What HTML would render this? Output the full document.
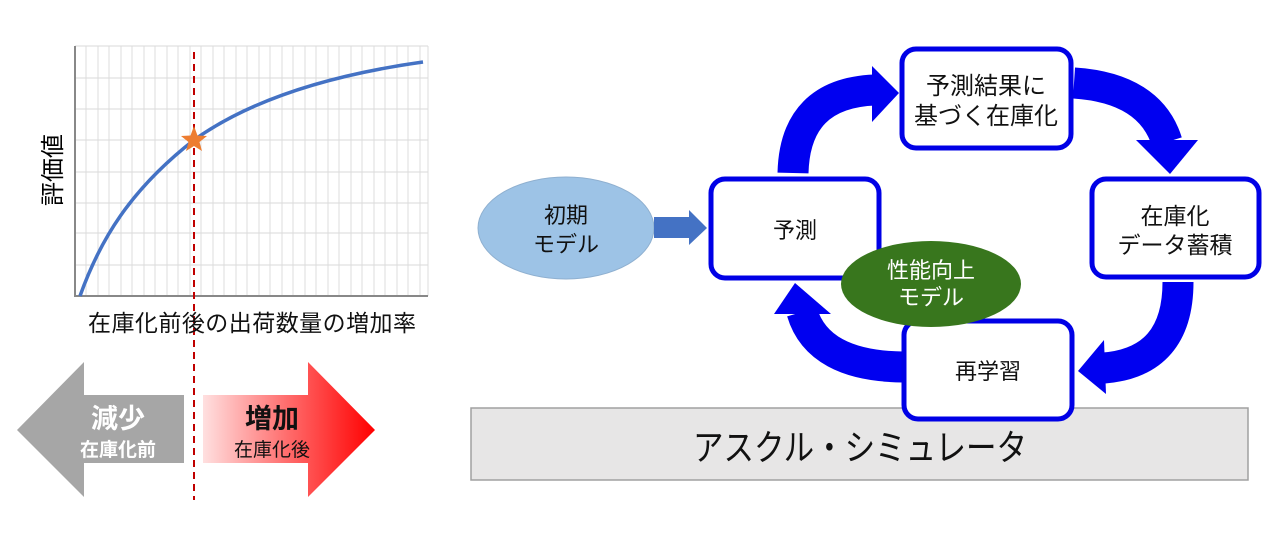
<!DOCTYPE html>
<html><head><meta charset="utf-8"><style>
html,body{margin:0;padding:0;background:#fff;}
body{width:1280px;height:530px;overflow:hidden;}
text{font-family:"Liberation Sans","Noto Sans CJK JP",sans-serif;}
</style></head><body>
<svg width="1280" height="530" viewBox="0 0 1280 530" xmlns="http://www.w3.org/2000/svg">
<defs>
<linearGradient id="rg" x1="0" x2="1" y1="0" y2="0">
<stop offset="0" stop-color="#ffe0e0"/><stop offset="0.5" stop-color="#ff6a6a"/><stop offset="1" stop-color="#ff0000"/>
</linearGradient>
</defs>
<g stroke="#d9d9d9" stroke-width="1">
<line x1="75" y1="46" x2="428" y2="46"/><line x1="75" y1="78" x2="428" y2="78"/><line x1="75" y1="109" x2="428" y2="109"/>
<line x1="75" y1="140" x2="428" y2="140"/><line x1="75" y1="172" x2="428" y2="172"/><line x1="75" y1="203" x2="428" y2="203"/>
<line x1="75" y1="233" x2="428" y2="233"/><line x1="75" y1="265" x2="428" y2="265"/>
</g>
<g stroke="#dcdcdc" stroke-width="1">
<line x1="86" y1="46" x2="86" y2="296"/><line x1="98" y1="46" x2="98" y2="296"/><line x1="109" y1="46" x2="109" y2="296"/>
<line x1="121" y1="46" x2="121" y2="296"/><line x1="132" y1="46" x2="132" y2="296"/><line x1="144" y1="46" x2="144" y2="296"/>
<line x1="155" y1="46" x2="155" y2="296"/><line x1="167" y1="46" x2="167" y2="296"/><line x1="178" y1="46" x2="178" y2="296"/>
<line x1="190" y1="46" x2="190" y2="296"/><line x1="201" y1="46" x2="201" y2="296"/><line x1="213" y1="46" x2="213" y2="296"/>
<line x1="224" y1="46" x2="224" y2="296"/><line x1="236" y1="46" x2="236" y2="296"/><line x1="247" y1="46" x2="247" y2="296"/>
<line x1="259" y1="46" x2="259" y2="296"/><line x1="270" y1="46" x2="270" y2="296"/><line x1="282" y1="46" x2="282" y2="296"/>
<line x1="293" y1="46" x2="293" y2="296"/><line x1="305" y1="46" x2="305" y2="296"/><line x1="316" y1="46" x2="316" y2="296"/>
<line x1="328" y1="46" x2="328" y2="296"/><line x1="339" y1="46" x2="339" y2="296"/><line x1="351" y1="46" x2="351" y2="296"/>
<line x1="362" y1="46" x2="362" y2="296"/><line x1="374" y1="46" x2="374" y2="296"/><line x1="385" y1="46" x2="385" y2="296"/>
<line x1="397" y1="46" x2="397" y2="296"/><line x1="408" y1="46" x2="408" y2="296"/><line x1="420" y1="46" x2="420" y2="296"/>
<line x1="428" y1="46" x2="428" y2="296"/>
</g>
<line x1="75" y1="46" x2="75" y2="297" stroke="#888" stroke-width="2"/>
<line x1="74" y1="296" x2="428" y2="296" stroke="#888" stroke-width="2"/>
<path d="M80,296 C100,240 130,190 194,140 C250,100 330,75 423,62" fill="none" stroke="#4472c4" stroke-width="3.5"/>
<line x1="194" y1="52" x2="194" y2="500" stroke="#c00000" stroke-width="2" stroke-dasharray="7,5"/>
<polygon points="194,126 197.5,135.5 207,136 199.5,142 202,151 194,146 186,151 188.5,142 181,136 190.5,135.5" fill="#ed7d31"/>
<text x="0" y="0" font-size="24" transform="translate(61,170) rotate(-90)" text-anchor="middle" fill="#000">評価値</text>
<text x="252" y="331" font-size="23" text-anchor="middle" fill="#111" textLength="328">在庫化前後の出荷数量の増加率</text>
<polygon points="17,430 84,362 84,395 184,395 184,463 84,463 84,497" fill="#a6a6a6"/>
<text x="118" y="428" font-size="27" font-weight="bold" fill="#fff" text-anchor="middle">減少</text>
<text x="118" y="456" font-size="19" font-weight="bold" fill="#fff" text-anchor="middle">在庫化前</text>
<polygon points="203,395 308,395 308,362 375,430 308,497 308,463 203,463" fill="url(#rg)"/>
<text x="272" y="428" font-size="27" font-weight="bold" fill="#111" text-anchor="middle">増加</text>
<text x="272" y="456" font-size="19" fill="#111" text-anchor="middle">在庫化後</text>
<rect x="471" y="408" width="777" height="72" fill="#e7e6e6" stroke="#a0a0a0" stroke-width="1.5"/>
<text x="860" y="460" font-size="36" text-anchor="middle" fill="#111" textLength="334" lengthAdjust="spacingAndGlyphs">アスクル・シミュレータ</text>
<ellipse cx="566" cy="228" rx="88" ry="51" fill="#9dc3e6" stroke="#8fb0d0" stroke-width="1"/>
<text x="566" y="223" font-size="22" text-anchor="middle" fill="#111">初期</text>
<text x="566" y="252" font-size="22" text-anchor="middle" fill="#111">モデル</text>
<polygon points="654,217 689,217 689,210 707,228 689,245 689,238 654,238" fill="#4472c4"/>
<g fill="none" stroke="#0000f0" stroke-width="31">
<path d="M793,173 Q795,93 875,90"/>
<path d="M1074,83 Q1150,88 1167,142"/>
<path d="M1178,282 Q1178,362 1104,368"/>
<path d="M903,367 Q818,366 802,312"/>
</g>
<g fill="#0000f0">
<polygon points="872,66 899,93 872,122"/>
<polygon points="1136,140 1198,140 1170,174"/>
<polygon points="1104,340 1078,371 1106,394"/>
<polygon points="774,314 795,283 831,314"/>
</g>
<g fill="#fff" stroke="#0000e6" stroke-width="5">
<rect x="711" y="179" width="168" height="99" rx="14"/>
<rect x="902" y="49" width="169" height="99" rx="14"/>
<rect x="1092" y="179" width="167" height="98" rx="14"/>
<rect x="904" y="321" width="168" height="98" rx="14"/>
</g>
<text x="795" y="238" font-size="22" text-anchor="middle" fill="#111">予測</text>
<text x="986" y="94" font-size="24" text-anchor="middle" fill="#111">予測結果に</text>
<text x="986" y="124" font-size="24" text-anchor="middle" fill="#111">基づく在庫化</text>
<text x="1175" y="224" font-size="23" text-anchor="middle" fill="#111">在庫化</text>
<text x="1175" y="253" font-size="23" text-anchor="middle" fill="#111">データ蓄積</text>
<text x="988" y="379" font-size="22" text-anchor="middle" fill="#111">再学習</text>
<ellipse cx="931" cy="284" rx="90" ry="43" fill="#38761d"/>
<text x="931" y="278" font-size="22" text-anchor="middle" fill="#fff">性能向上</text>
<text x="931" y="305" font-size="22" text-anchor="middle" fill="#fff">モデル</text>
</svg>
</body></html>
